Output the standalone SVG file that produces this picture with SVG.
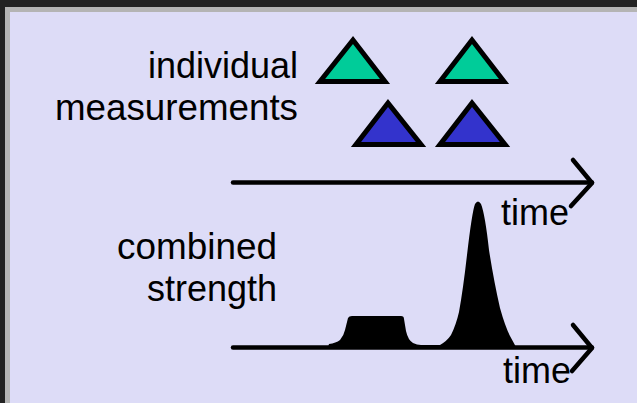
<svg xmlns="http://www.w3.org/2000/svg" width="637" height="403" viewBox="0 0 637 403">
<style>
.lbl{font-family:"Liberation Sans",Arial,sans-serif;font-size:37px;fill:#000}
.tm{font-size:37px}
.tri{stroke:#000;stroke-width:5;stroke-linejoin:miter}
.g{fill:#00cc99}
.b{fill:#3333cc}
.ax{stroke:#000;stroke-width:4.5;fill:none;stroke-linecap:round;stroke-linejoin:round}
</style>
<rect x="0" y="0" width="637" height="403" fill="#222222"/>
<rect x="5" y="7" width="632" height="396" fill="#b4b4b4"/>
<rect x="10" y="12" width="627" height="391" fill="#dddcf7"/>
<g id="label-individual">
<text class="lbl" x="148" y="78" textLength="150" lengthAdjust="spacingAndGlyphs">individual</text>
<text class="lbl" x="55" y="120" textLength="243" lengthAdjust="spacingAndGlyphs">measurements</text>
</g>
<g id="label-combined">
<text class="lbl" x="117" y="259" textLength="160" lengthAdjust="spacingAndGlyphs">combined</text>
<text class="lbl" x="147" y="301" textLength="130" lengthAdjust="spacingAndGlyphs">strength</text>
</g>
<g id="tri-green-1"><polygon class="tri g" points="353,40 320,81.5 385,81.5"/></g>
<g id="tri-green-2"><polygon class="tri g" points="472,40 440,81.5 504,81.5"/></g>
<g id="tri-blue-1"><polygon class="tri b" points="388,103 356,144.5 421,144.5"/></g>
<g id="tri-blue-2"><polygon class="tri b" points="472,103 440,144.5 505,144.5"/></g>
<g id="signal">
<path fill="#000" d="M328,347 L329,344 Q336,343 340,340 Q344,335 345,330 L348,318 Q349,316 352,316 L401,316 Q404,316 404,319 L406,331 Q408,340 413,343 Q417,345 421,345 L440,345 Q447,341 451,335 Q456,325 459,312 Q463,290 467,255 Q472,212 475,204 Q478,199 481,204 Q485,214 489,250 Q494,282 500,308 Q505,326 510,336 L516,347 Z"/>
</g>
<g id="connectors">
<g id="axis-top">
<line class="ax" x1="233" y1="182.5" x2="592" y2="182.5"/>
<polyline class="ax" points="573,160 592,183 571,206"/>
</g>
<g id="axis-bottom">
<line class="ax" x1="233" y1="347.5" x2="592" y2="347.5"/>
<polyline class="ax" points="573,325 592,348 572,371"/>
</g>
</g>
<g id="label-time-1"><text class="lbl tm" x="501" y="225" textLength="68" lengthAdjust="spacingAndGlyphs">time</text></g>
<g id="label-time-2"><text class="lbl tm" x="503" y="383" textLength="68" lengthAdjust="spacingAndGlyphs">time</text></g>
</svg>
